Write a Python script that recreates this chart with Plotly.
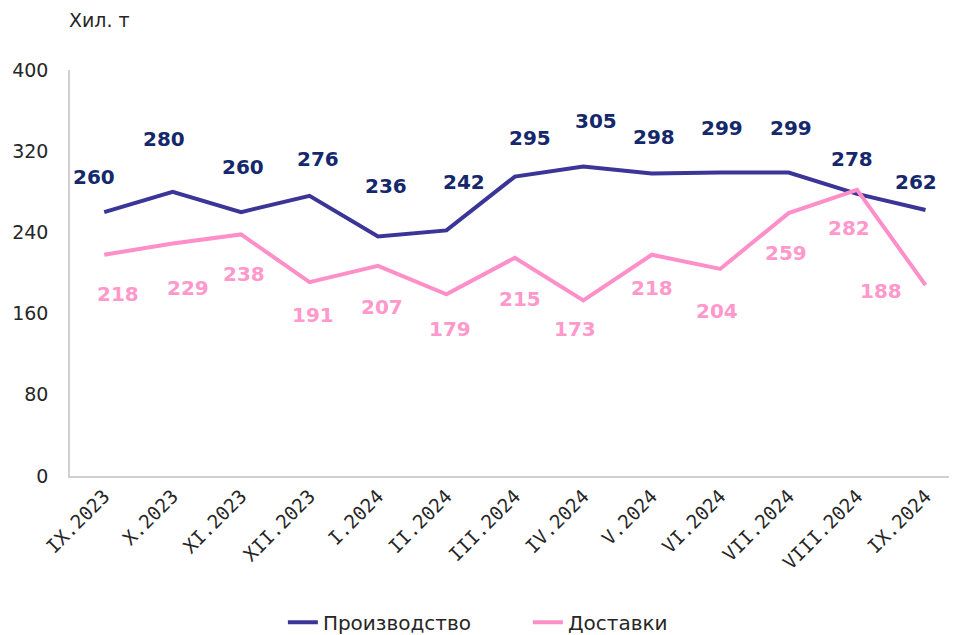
import plotly.graph_objects as go

categories = ["IX.2023", "X.2023", "XI.2023", "XII.2023", "I.2024", "II.2024", "III.2024",
              "IV.2024", "V.2024", "VI.2024", "VII.2024", "VIII.2024", "IX.2024"]
production = [260, 280, 260, 276, 236, 242, 295, 305, 298, 299, 299, 278, 262]
deliveries = [218, 229, 238, 191, 207, 179, 215, 173, 218, 204, 259, 282, 188]
y_ticks = [0, 80, 160, 240, 320, 400]

# label placement offsets (pixels), layout only
prod_dx = [-10, -9, 2, 8, 8, 18, 15, 13, 2, 2, 2, -5, -10]
prod_dy = [35, 53, 45, 37, 50, 48, 39, 45, 37, 45, 45, 35, 28]
del_dx = [14, 15, 3, 3, 4, 4, 5, -8, 0, -3, -3, -8, -45]
del_dy = [-39, -44, -40, -33, -41, -35, -41, -29, -33, -42, -40, -38, -6]

prod_line = "#3B3597"
prod_text = "#14286B"
del_line = "#FF8FC8"
del_text = "#FF99CC"

x = list(range(len(categories)))

fig = go.Figure()
fig.add_trace(go.Scatter(x=x, y=production, mode="lines", name="Производство",
                         line=dict(color=prod_line, width=4)))
fig.add_trace(go.Scatter(x=x, y=deliveries, mode="lines", name="Доставки",
                         line=dict(color=del_line, width=4)))

for i, v in enumerate(production):
    fig.add_annotation(x=i, y=v, text=str(v), showarrow=False,
                       yshift=prod_dy[i], xshift=prod_dx[i],
                       font=dict(family="DejaVu Sans", size=20, color=prod_text, weight="bold"))
for i, v in enumerate(deliveries):
    fig.add_annotation(x=i, y=v, text=str(v), showarrow=False,
                       yshift=del_dy[i], xshift=del_dx[i],
                       font=dict(family="DejaVu Sans", size=20, color=del_text, weight="bold"))

fig.add_annotation(xref="paper", yref="paper", x=0.033, y=1.0, yshift=50, xanchor="center",
                   yanchor="middle", text="Хил. т", showarrow=False,
                   font=dict(family="DejaVu Sans", size=19, color="#262626"))

fig.update_layout(
    width=949, height=635,
    margin=dict(l=62, r=0, t=62, b=167),
    plot_bgcolor="white", paper_bgcolor="white",
    showlegend=True,
    legend=dict(orientation="h", x=0.24, xanchor="left", y=-0.36, yanchor="middle",
                font=dict(family="DejaVu Sans", size=20, color="#262626"),
                entrywidth=200, entrywidthmode="pixels", tracegroupgap=0),
    xaxis=dict(range=[-0.5, 12.46], tickmode="array", tickvals=x, ticktext=categories,
               tickangle=-45, showgrid=False, zeroline=False, showline=True,
               linecolor="#D0D0D0", linewidth=1.5, ticks="", automargin=False,
               tickfont=dict(family="DejaVu Sans Mono", size=19, color="#262626")),
    yaxis=dict(range=[0, 400], tickmode="array", tickvals=y_ticks, showgrid=False,
               zeroline=False, showline=True, linecolor="#D0D0D0", linewidth=1.5,
               ticks="", ticklabelstandoff=16, automargin=False,
               tickfont=dict(family="DejaVu Sans", size=19, color="#262626")),
)

fig.write_html("out.html")
